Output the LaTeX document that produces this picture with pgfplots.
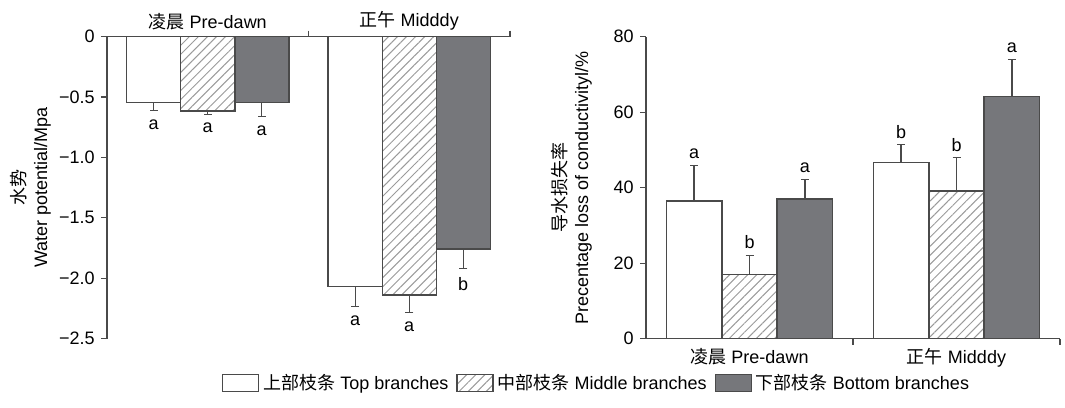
\documentclass[border=0pt]{standalone}
\usepackage{fontspec}
\setmainfont{Liberation Sans}
\newfontfamily\cjk{Noto Sans CJK SC}
\usepackage{pgfplots}
\pgfplotsset{compat=1.18}
\usetikzlibrary{patterns.meta}
\definecolor{edge}{HTML}{4A4A4A}
\definecolor{darkfill}{HTML}{76777B}
\definecolor{hatch}{HTML}{9A9A9A}
\pgfplotsset{
  myaxis/.style={
    scale only axis, height=151pt, xmin=-0.5, xmax=1.5,
    tick align=outside, major tick length=3pt,
    axis line style={edge, line width=0.6pt},
    every tick/.style={edge, line width=0.6pt},
    /pgf/number format/assume math mode=true,
    tick label style={font=\fontsize{9pt}{11pt}\selectfont},
    label style={font=\fontsize{9pt}{11pt}\selectfont},
    xtick={0.5,1.5}, xticklabels={},
    extra x ticks={0,1},
    extra x tick labels={{\cjk 凌晨} Pre-dawn,{\cjk 正午} Midddy},
    extra x tick style={major tick length=0pt},
    clip=false,
  },
  barstyle/.style={ybar, bar width=0.268, bar shift=0pt, draw=edge, line width=0.75pt,
    error bars/y explicit, error bars/error bar style={edge, line width=0.6pt}},
  letters/.style={draw=none, forget plot, nodes near coords, point meta=explicit symbolic,
    every node near coord/.append style={text=black, font=\fontsize{9pt}{11pt}\selectfont}},
  boxlegend/.style={legend image code/.code={\draw[##1] (0pt,-4.25pt) rectangle (18pt,4.25pt);}},
}
\begin{document}
\fontsize{9pt}{11pt}\selectfont
\begin{tikzpicture}
\path[use as bounding box] (0,0) rectangle (532.5pt,203.5pt);
% ---------- left panel ----------
\begin{axis}[myaxis, at={(53.5pt,34.2pt)}, anchor=south west, width=201.5pt,
  ymin=-2.5, ymax=0, axis x line*=top, axis y line*=left,
  ytick={-2.5,-2,-1.5,-1,-0.5,0},
  yticklabels={−2.5,−2.0,−1.5,−1.0,−0.5,0},
  ylabel={{\cjk 水势}\\Water potential/Mpa},
  ylabel style={align=center, at={(axis description cs:-0.19,0.5)}, anchor=center},
  legend columns=3,
  legend style={draw=none, fill=none, at={(0.27,-0.147)}, anchor=west,
    font=\fontsize{9pt}{11pt}\selectfont,
    /tikz/every even column/.append style={column sep=2pt}},
]
\addlegendimage{boxlegend, draw=edge, fill=white, line width=0.6pt}
\addlegendentry{{\cjk 上部枝条} Top branches}
\addlegendimage{boxlegend, draw=edge, line width=0.6pt, pattern={Lines[angle=45,distance=3.2pt,line width=0.5pt]}, pattern color=hatch}
\addlegendentry{{\cjk 中部枝条} Middle branches}
\addlegendimage{boxlegend, draw=edge, fill=darkfill, line width=0.6pt}
\addlegendentry{{\cjk 下部枝条} Bottom branches}
\addplot[barstyle, fill=white, forget plot, error bars/y dir=minus] coordinates {
  (-0.268,-0.547) +- (0,0.066)
  (0.732,-2.07) +- (0,0.16)
};
\addplot[barstyle, forget plot, pattern={Lines[angle=45,distance=3.2pt,line width=0.5pt]}, pattern color=hatch, error bars/y dir=minus] coordinates {
  (0,-0.616) +- (0,0.024)
  (1,-2.14) +- (0,0.14)
};
\addplot[barstyle, fill=darkfill, forget plot, error bars/y dir=minus] coordinates {
  (0.268,-0.547) +- (0,0.11)
  (1.268,-1.76) +- (0,0.16)
};
\addplot[letters, every node near coord/.append style={anchor=north, yshift=-1.5pt}] coordinates {
  (-0.268,-0.613)[a] (0,-0.64)[a] (0.268,-0.657)[a]
  (0.732,-2.23)[a] (1,-2.28)[a] (1.268,-1.92)[b]
};
\end{axis}
% ---------- right panel ----------
\begin{axis}[myaxis, at={(323pt,34.2pt)}, anchor=south west, width=207pt,
  ymin=0, ymax=80, axis x line*=bottom, axis y line*=left,
  ytick={0,20,40,60,80},
  ylabel={{\cjk 导水损失率}\\Precentage loss of conductivityl/\%},
  ylabel style={align=center, at={(axis description cs:-0.18,0.5)}, anchor=center},
  xticklabel style={yshift=-1.5pt},
]
\addplot[barstyle, fill=white, error bars/y dir=plus] coordinates {
  (-0.268,36.4) +- (0,9.6)
  (0.732,46.6) +- (0,4.8)
};
\addplot[barstyle, pattern={Lines[angle=45,distance=3.2pt,line width=0.5pt]}, pattern color=hatch, error bars/y dir=plus] coordinates {
  (0,17.0) +- (0,5.1)
  (1,39.1) +- (0,8.8)
};
\addplot[barstyle, fill=darkfill, error bars/y dir=plus] coordinates {
  (0.268,37.0) +- (0,5.2)
  (1.268,64.2) +- (0,9.8)
};
\addplot[letters, every node near coord/.append style={anchor=south}] coordinates {
  (-0.268,46.0)[a] (0,22.1)[b] (0.268,42.2)[a]
  (0.732,51.4)[b] (1,47.9)[b] (1.268,74.0)[a]
};
\end{axis}
\end{tikzpicture}
\end{document}
